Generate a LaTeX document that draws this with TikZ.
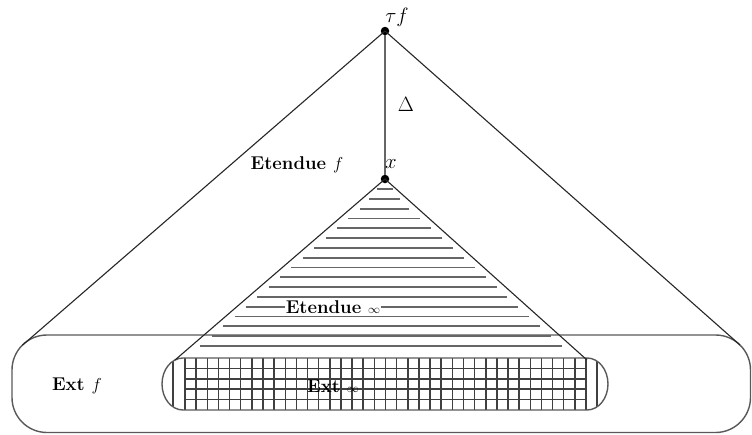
\documentclass[tikz,border=0pt]{standalone}
\usetikzlibrary{calc}
\tikzset{
  edge/.style={line width=1.1pt, black!85},
  axisline/.style={line width=1.5pt, black!60},
  hatch/.style={line width=1.8pt, black!60},
  gridline/.style={line width=1.5pt, black!75},
  rim/.style={line width=1.4pt, black!65},
  dotnode/.style={circle, fill=black, inner sep=0pt, minimum size=8.5pt},
  lab/.style={font=\fontsize{18.5}{21}\selectfont\bfseries, inner sep=1pt},
  mlab/.style={font=\fontsize{20}{24}\selectfont, inner sep=0pt},
}
\begin{document}
\begin{tikzpicture}[x=1pt,y=-1pt]
\useasboundingbox (0,0) rectangle (752,434);
% outer stadium (Ext f)
\draw[rim, rounded corners=35pt] (12,335) rectangle (750.5,432.5);
% hatching of the small triangle
\foreach \k in {0,...,16} {
  \pgfmathsetmacro{\yy}{189+9.8*\k}
  \pgfmathsetmacro{\xl}{385-(210/181)*(\yy-179)}
  \pgfmathsetmacro{\xr}{385+(202/181)*(\yy-179)}
  \pgfmathsetmacro{\ins}{min(9,0.3*(\xr-\xl)/2)}
  \pgfmathsetmacro{\xa}{\xl+\ins}
  \pgfmathsetmacro{\xb}{\xr-\ins}
  \draw[hatch] (\xa,\yy) -- (\xb,\yy);
}
% grid of the inner stadium (Ext x)
\foreach \k in {0,...,36} {
  \pgfmathsetmacro{\xx}{185+401/36*\k}
  \draw[gridline] (\xx,358) -- (\xx,410);
}
\foreach \yy in {368.4,378.8,389.2,399.6}
  \draw[gridline] (185,\yy) -- (586,\yy);
\draw[gridline] (173,361) -- (173,407);
\draw[gridline] (597,361) -- (597,407);
% inner stadium outline
\draw[rim] (183,358) -- (587,358)
  arc[start angle=90,end angle=-90,x radius=21pt,y radius=26pt]
  -- (183,410)
  arc[start angle=270,end angle=90,x radius=21pt,y radius=26pt] -- cycle;
% points
\node[dotnode] (top) at (385,31) {};
\node[dotnode] (xpt) at (385,179) {};
\coordinate (bigL) at (22.3,345.3);
\coordinate (bigR) at (740,345);
\coordinate (smallL) at (175,360);
\coordinate (smallR) at (587,360);
% triangles
\draw[edge] (top.center) -- (bigL);
\draw[edge] (top.center) -- (bigR);
\draw[edge] (xpt.center) -- (smallL);
\draw[edge] (xpt.center) -- (smallR);
\draw[axisline] (top) -- (xpt);
% labels
\node[mlab] (taulab) at (397,17) {$\tau f$};
\node[mlab] (deltalab) at (406,104) {$\Delta$};
\node[mlab] (xlab) at (391,164) {$x$};
\node[lab] (etf) at (297,165) {Etendue $f$};
\node[lab, fill=white] (etx) at (333,307) {Etendue $\scriptstyle\infty$};
\node[lab] (extf) at (77,386) {Ext $f$};
\node[lab] (extx) at (333,386) {Ext $\scriptstyle\infty$};
\end{tikzpicture}
\end{document}
